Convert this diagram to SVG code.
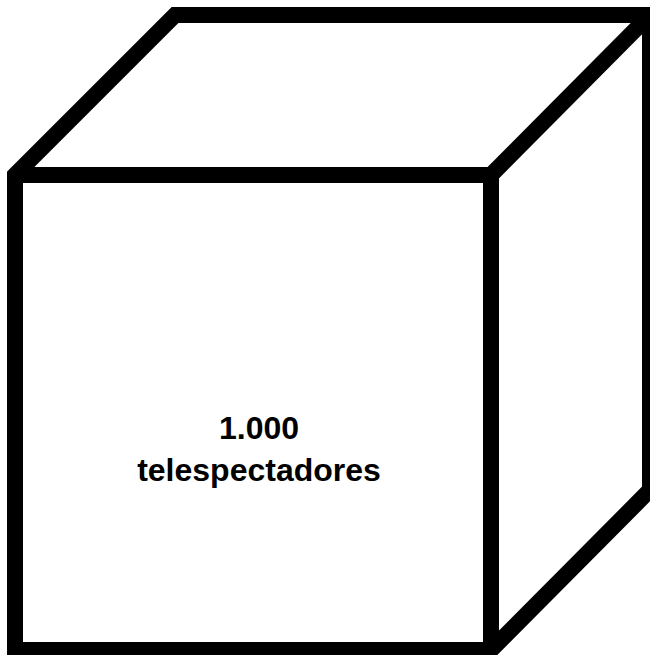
<svg xmlns="http://www.w3.org/2000/svg" width="650" height="655" viewBox="0 0 650 655">
<style>
.edge{fill:none;stroke:#000;stroke-width:16;stroke-linejoin:miter;stroke-miterlimit:10}
.lbl{font-family:"Liberation Sans",Arial,sans-serif;font-weight:bold;font-size:32px;fill:#000;text-anchor:middle}
</style>
<rect width="650" height="655" fill="#fff"/>
<g id="cube">
<polygon class="edge" points="15,175 175,15 650,15 650,490 491,650 15,650"/>
<polyline class="edge" points="15,175 491,175 491,650"/>
<line class="edge" x1="491" y1="175" x2="650" y2="15"/>
</g>
<g id="label">
<text class="lbl" x="259" y="439">1.000</text>
<text class="lbl" x="259" y="481">telespectadores</text>
</g>
</svg>
